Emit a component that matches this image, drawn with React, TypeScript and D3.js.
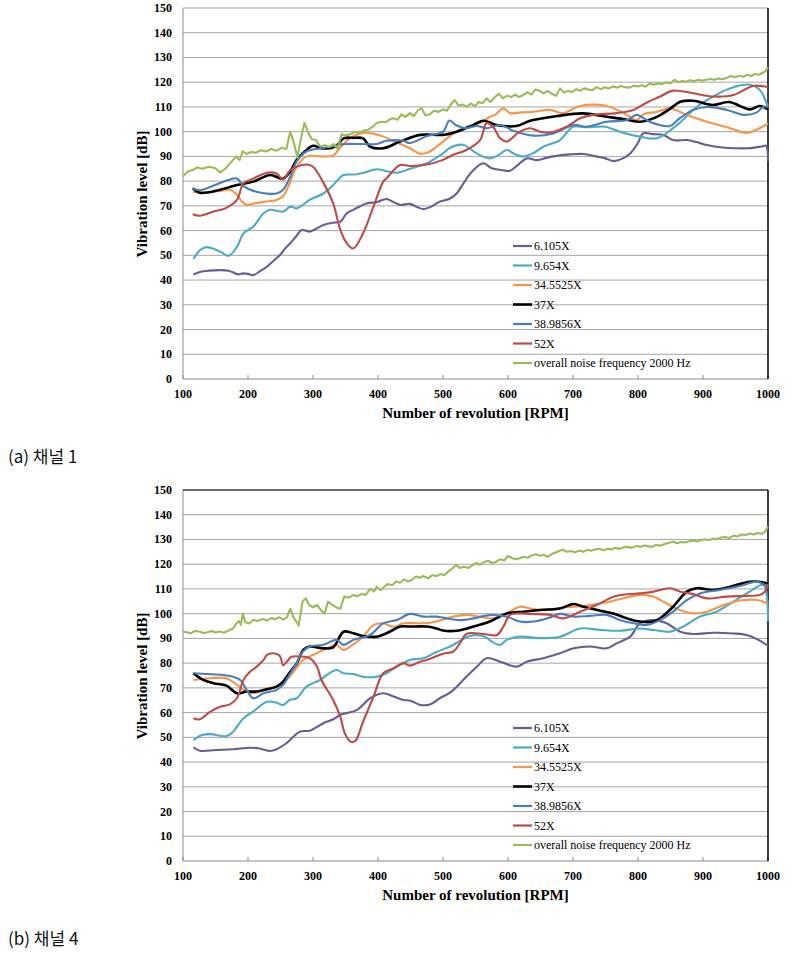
import React, { useEffect, useState } from "react";
import * as d3 from "d3";

type P = [number, number];

const seriesNames = ["6.105X", "9.654X", "34.5525X", "37X", "38.9856X", "52X", "overall noise frequency 2000 Hz"];
const seriesColors = ["#665C99", "#4BACC6", "#F79646", "#000000", "#4A7EBB", "#BE4B48", "#9BBB59"];
const xTicks = [100, 200, 300, 400, 500, 600, 700, 800, 900, 1000];
const yTicks = [0, 10, 20, 30, 40, 50, 60, 70, 80, 90, 100, 110, 120, 130, 140, 150];
const captions = ["(a) 채널 1", "(b) 채널 4"];

// ---- Channel 1 ----
const ch1_6105: P[] = [[116,42.3],[126,43.3],[140,43.8],[157,44],[170,43.8],[185,42.3],[192,42.7],[200,42.5],[208,42],[218,43.5],[229,45.4],[240,48],[249,50.1],[258,53],[265,54.9],[272,57],[283,60.2],[295,59.6],[305,60.8],[316,62.3],[330,63.2],[342,63.6],[352,67],[362,68.4],[382,71],[398,71.5],[413,72.8],[424,71.5],[434,70.4],[449,70.8],[462,69.3],[470,68.7],[482,69.7],[495,71.7],[511,73],[521,75],[530,78.5],[545,84],[562,87.2],[575,85.2],[590,84.5],[603,84.2],[615,86.5],[629,89.2],[645,88.5],[660,89.5],[675,90.2],[695,90.8],[716,91],[735,90],[750,89.2],[762,88.1],[775,89],[788,91.2],[800,95.5],[808,99.3],[823,99],[840,98.6],[854,96.6],[875,96.6],[890,95.8],[906,94.6],[930,93.6],[950,93.3],[970,93.3],[990,94],[997,94.3],[1000,88]];
const ch1_9654: P[] = [[116,48.5],[126,52],[136,53.3],[157,51.5],[170,49.8],[183,53.4],[193,58.9],[208,61.6],[224,67],[234,68.4],[254,67.7],[265,69.7],[275,69],[295,72.4],[316,75],[331,78.4],[340,81],[347,82.5],[365,82.7],[380,83.5],[398,84.8],[413,84],[430,83.4],[449,85],[475,87.2],[500,91.2],[511,93.5],[531,94.7],[542,93],[552,91.2],[572,89.2],[585,90.5],[598,92.6],[610,91],[623,89.9],[640,91.5],[655,94],[680,96.6],[700,102],[720,101.8],[750,102],[772,100],[803,98],[829,97.3],[854,101.4],[870,105],[885,108.8],[900,111.8],[916,114.2],[932,116.5],[947,118],[972,119],[987,117],[1000,110]];
const ch1_345525: P[] = [[115,75.7],[130,75.4],[157,76],[172,76.5],[183,74.5],[190,72],[198,70.4],[210,71],[226,71.7],[244,72.4],[254,74],[262,77.8],[275,85.8],[290,90],[310,90],[331,90.3],[340,93],[357,97.3],[377,99.5],[395,99],[408,98],[428,95.7],[449,93.3],[465,91.1],[480,92],[500,96],[521,100],[546,102.3],[560,104],[572,106],[580,106.8],[593,109.4],[603,107.5],[620,107.8],[638,108],[664,108.8],[685,107.5],[711,110.4],[752,110.4],[772,108.3],[783,106.8],[798,104.7],[808,107],[829,108],[849,109.4],[875,106.8],[906,104],[942,101.4],[967,99.5],[987,101.4],[1000,103.4]];
const ch1_37: P[] = [[115,77.1],[126,75.3],[140,75.5],[157,76.5],[183,78.4],[208,79.8],[234,82.5],[254,81],[265,84],[275,88.6],[290,92.6],[300,94.3],[315,93.2],[336,94.3],[347,97.3],[362,97.5],[377,97.3],[388,93.9],[408,93.3],[434,96],[465,98.7],[500,98.7],[521,100],[545,102.5],[562,104.4],[582,102.7],[613,102.3],[634,104.4],[675,106.3],[715,107.4],[752,106],[780,105],[803,104],[829,106],[848,109],[865,112.1],[885,112.5],[915,110.8],[940,112],[972,109],[987,110.4],[1000,109]];
const ch1_389856: P[] = [[115,77],[126,76.3],[150,78.5],[170,80.5],[183,81.1],[193,78],[213,75.7],[228,75],[244,75],[254,76.5],[265,81.8],[275,88],[290,92],[316,93.4],[336,94.4],[347,95],[377,95],[398,95],[413,96.3],[439,96.3],[449,95.4],[475,98.2],[500,100],[510,104.5],[521,102.5],[536,101.4],[552,102.3],[567,101.4],[588,102.7],[608,100.4],[639,98.4],[670,99.3],[701,102.7],[720,102],[752,104],[783,104.7],[798,106.8],[818,104],[849,102.3],[864,105.4],[885,108.8],[906,110],[937,108.8],[962,106.8],[982,107.7],[993,110.1],[1000,110]];
const ch1_52: P[] = [[115,66.6],[126,66],[147,67.7],[165,69],[183,72.4],[193,79.1],[208,81],[229,83.4],[244,83.1],[254,80.6],[265,84.5],[275,85.8],[290,86.7],[300,85.8],[315,79.8],[331,71],[342,60.3],[352,54.9],[362,52.8],[377,58.9],[393,69.7],[408,79.8],[413,81.1],[434,86.5],[449,86.1],[475,86.7],[500,88.6],[515,90.6],[536,92.6],[557,96.6],[567,103.4],[577,102],[588,97.3],[598,96],[618,100],[634,101.4],[649,100],[664,99.6],[690,102],[711,105.4],[731,106.8],[767,107.5],[793,108.8],[813,111.7],[834,114.2],[854,116.6],[885,115.5],[916,114.2],[947,114.8],[977,118.5],[1000,118]];
const ch1_noise: P[] = [[100,82],[108,84],[115,84.5],[122,85.5],[130,85],[140,85.8],[150,85.2],[157,83.5],[165,85],[175,88],[182,90],[187,88.5],[192,92],[198,91],[205,91.8],[212,91.5],[220,92.5],[228,92],[236,93],[244,92.3],[252,93.5],[259,93],[265,100],[271,95],[276,89.5],[282,98],[287,103.6],[292,100],[298,97],[305,96.5],[311,94],[318,94.5],[325,93.8],[332,95],[338,93],[344,99],[350,98.5],[358,99],[365,100],[372,99.5],[378,100.5],[385,100.8],[392,102],[398,103.5],[405,104],[412,103.8],[418,105],[424,105.4],[430,104.8],[436,107],[442,106],[449,107.5],[455,106.3],[461,108.5],[467,109.5],[473,106.5],[480,107],[486,108.5],[493,108],[500,109],[506,108.5],[512,111],[518,112.8],[524,110.5],[530,111],[537,110],[543,111.5],[549,110.2],[555,112],[561,111.5],[567,113.5],[573,112],[580,114],[586,115.3],[592,113.5],[598,114.5],[605,114],[611,115],[617,114],[623,114.8],[630,116],[636,115],[642,117],[649,116.5],[655,115.5],[661,116.5],[668,115.2],[674,114.5],[680,117.5],[686,115.8],[692,116.5],[698,116],[705,117.2],[711,116.5],[717,117.5],[724,117],[730,116.8],[736,118],[743,117.2],[749,118],[755,117.5],[762,118.3],[768,117.8],[774,118.5],[780,118],[787,117.8],[793,118.6],[800,118.3],[806,118.8],[812,118.2],[818,119.5],[825,119],[831,119.6],[837,119.2],[843,120],[850,119.5],[856,121],[862,120],[868,120.5],[874,120.2],[880,120.8],[886,120.4],[893,121],[899,120.6],[905,121],[912,121.3],[918,121],[924,121.5],[930,121.2],[937,121.8],[943,122.5],[949,122],[955,122.6],[962,122.2],[968,123],[974,122.5],[980,123.3],[986,123],[992,123.8],[996,124.5],[1000,126]];

// ---- Channel 4 ----
const ch4_6105: P[] = [[116,46],[126,44.6],[150,44.9],[177,45.2],[203,45.8],[218,45.5],[234,44.5],[244,45.2],[259,47.6],[280,52.3],[295,52.7],[316,55.7],[331,57.3],[342,59.1],[367,61],[388,65.8],[408,67.8],[424,66.5],[439,65.1],[450,64.8],[465,63.1],[480,63.3],[495,65.8],[513,68.5],[536,74.5],[552,78.5],[567,82],[588,80.6],[613,78.6],[629,80.6],[654,82],[680,84],[701,86],[726,86.7],[752,86],[767,88],[788,90.7],[803,96.1],[824,97.4],[844,96.1],[865,92.7],[885,91.8],[916,92.3],[947,92],[967,91.4],[983,89.7],[1000,87]];
const ch4_9654: P[] = [[116,48.9],[129,50.9],[142,51.3],[167,50.5],[177,52.3],[193,57.7],[208,60.4],[229,64.4],[244,64],[254,63.1],[264,65.1],[275,65.8],[290,70.5],[311,73.2],[321,75.2],[336,77.2],[347,75.9],[362,75.6],[377,74.5],[398,74.5],[413,75.9],[424,77.9],[439,80],[449,81.3],[470,82],[490,84.5],[511,86.7],[526,89],[541,91],[557,91.2],[567,90.3],[575,88.7],[588,87.4],[598,89.4],[618,90.7],[649,90.1],[680,90.7],[711,94],[742,93.4],[772,93.1],[803,94],[824,93.4],[849,92.7],[870,94.8],[895,98.8],[921,100.8],[947,104.9],[972,108.9],[993,111.6],[1000,97]];
const ch4_345525: P[] = [[116,73.2],[142,73.9],[167,73.9],[183,71.2],[193,69.2],[208,67.8],[229,69.8],[244,70.5],[259,73.2],[270,76.5],[280,79.9],[285,81.3],[300,83.3],[316,85.3],[336,87.4],[347,85.3],[357,86.7],[377,90.7],[393,95.4],[408,96.1],[424,94.7],[439,96.1],[460,96.1],[480,96.3],[495,97.2],[516,98.8],[536,99.5],[557,98.8],[577,98.1],[598,100.1],[618,102.8],[634,102.1],[654,101.4],[685,102.5],[711,103],[742,104.1],[772,105.8],[803,107.6],[823,106.9],[844,104.1],[865,101.4],[885,100.1],[906,100.8],[932,103.5],[957,105.3],[983,105.5],[1000,104.1]];
const ch4_37: P[] = [[116,75.9],[131,73.2],[147,71.9],[167,70.9],[183,67.8],[198,68.5],[213,68.5],[229,69.4],[244,70.5],[254,72.5],[265,76.5],[275,79.9],[285,85.3],[295,86.7],[316,86],[331,86.4],[347,92.7],[362,92.1],[377,91],[398,90.7],[418,92.7],[434,94.8],[449,94.8],[475,94.8],[490,94],[500,93.2],[521,93.1],[547,94.8],[572,96.8],[598,100.1],[624,100.8],[649,101.5],[680,102.1],[701,103.9],[716,102.8],[742,101.2],[762,100.1],[783,98.1],[803,96.8],[824,96.8],[834,98.1],[854,102.8],[875,108.9],[890,110.3],[916,109.6],[942,110.9],[972,112.9],[995,112.5],[1000,112]];
const ch4_389856: P[] = [[116,75.9],[137,75.6],[162,75.2],[177,74.5],[188,73.2],[198,69.2],[208,65.8],[224,67.8],[244,69.2],[254,71.2],[265,75.9],[275,80],[282,84],[295,86.7],[316,87.4],[336,89.4],[347,87.4],[362,89.4],[388,91.4],[408,96.1],[429,97.4],[449,99.9],[470,98.8],[490,98.8],[500,98.4],[526,97.4],[547,98.1],[572,99.4],[598,98.8],[618,96.8],[639,96.8],[665,98.5],[680,99.9],[701,98.8],[726,99.1],[752,99.5],[772,97.4],[793,96.1],[813,95.4],[834,97.4],[854,100.8],[875,105.5],[895,108.2],[926,109.6],[957,111.2],[983,112.9],[995,111.6],[1000,111]];
const ch4_52: P[] = [[116,57.7],[126,57.3],[142,60.4],[157,62.4],[172,63.3],[183,65.8],[193,73.2],[203,76.5],[213,78.5],[224,81.3],[229,83.3],[239,84],[249,82.9],[254,79.2],[262,81.3],[267,82.6],[285,82.6],[295,82],[306,78.6],[313,73.2],[331,65.1],[342,58.4],[349,51.6],[358,48.2],[365,48.5],[377,56.3],[393,66.4],[408,75.9],[424,77.9],[439,80],[449,79],[465,80.6],[475,81.3],[500,83.8],[516,84.7],[526,88],[536,91.8],[562,91.8],[583,91.4],[593,94.8],[603,99.5],[618,100.1],[634,99.9],[665,99.5],[685,98.1],[711,100.8],[736,103.5],[767,107.2],[803,108.2],[824,108.9],[849,110.3],[865,108.9],[885,107.9],[906,106.2],[936,106.9],[967,107.2],[988,107.6],[995,108.9],[1000,112]];
const ch4_noise: P[] = [[100,92.7],[106,92.5],[112,92],[118,93],[125,92.8],[131,92.2],[138,92.5],[144,93],[150,92.4],[157,92.8],[163,92.3],[170,93.2],[177,94],[182,96],[186,97],[189,95.5],[192,100],[196,96.5],[202,96],[208,97.5],[215,97],[222,97.8],[229,97.2],[236,98.2],[242,97.8],[248,98.6],[254,97.6],[260,98.5],[265,102],[270,98.5],[274,97],[278,95.2],[284,105],[289,106.2],[294,103.5],[300,102.6],[306,103.5],[312,101.5],[318,100],[323,104.9],[330,103.5],[336,102.5],[342,102],[348,106.9],[355,106.5],[362,107.5],[368,107],[375,108],[381,107.6],[388,110],[394,109],[398,110.9],[404,109.5],[410,111],[416,112],[422,111.5],[428,113],[434,112.5],[440,113.9],[446,113],[452,113.6],[458,115],[464,114.5],[470,115.2],[477,114.3],[483,115.5],[490,115.2],[496,116],[502,115.5],[508,117],[514,118.2],[520,119.7],[526,118.5],[532,119],[539,118.5],[545,119.5],[551,120.5],[557,119.8],[563,120.8],[569,121.4],[576,120.5],[582,121],[588,122],[594,121.5],[600,123.3],[606,122.5],[612,122],[618,122.4],[624,123],[630,122.6],[636,123.5],[643,124],[649,123.4],[655,123.8],[661,123],[668,124.2],[674,124.8],[680,125.5],[685,125.8],[691,125],[697,125.3],[703,124.8],[709,125.5],[716,125],[722,125.8],[728,125.4],[734,126],[741,126.2],[747,125.6],[753,126.3],[759,126],[765,126.6],[772,126.2],[778,126.8],[784,127],[790,126.6],[798,127.4],[804,127],[810,127.6],[816,127.2],[822,127],[828,127.8],[834,127.5],[841,128.2],[847,128.6],[854,129.1],[860,128.5],[866,129],[872,128.8],[879,129.3],[885,129.6],[891,129.2],[897,129.8],[903,130],[910,129.8],[916,130.4],[922,130.2],[928,130.8],[934,131],[940,130.6],[947,131.5],[953,131.2],[959,132],[966,131.8],[972,132.4],[978,132],[984,132.6],[990,132.3],[995,133],[1000,135.2]];

const channel1 = [ch1_6105, ch1_9654, ch1_345525, ch1_37, ch1_389856, ch1_52, ch1_noise];
const channel4 = [ch4_6105, ch4_9654, ch4_345525, ch4_37, ch4_389856, ch4_52, ch4_noise];

const SERIF = "'Times New Roman', 'Liberation Serif', serif";
const KR = "'Noto Sans CJK KR', sans-serif";
const LEFT = 183;
const RIGHT = 768;
const PLOT_H = 371;

function Chart({ top, data, caption, topBorder }: { top: number; data: P[][]; caption: string; topBorder: boolean }) {
  const x = d3.scaleLinear().domain([100, 1000]).range([LEFT, RIGHT]);
  const y = d3.scaleLinear().domain([0, 150]).range([top + PLOT_H, top]);
  const bottom = top + PLOT_H;
  const smooth = d3.line<P>().x((d) => x(d[0])).y((d) => y(d[1])).curve(d3.curveCatmullRom.alpha(0.5));
  const straight = d3.line<P>().x((d) => x(d[0])).y((d) => y(d[1]));
  const legendTop = top + 238;
  return (
    <g>
      {yTicks.map((t) => (
        <line key={"g" + t} x1={LEFT} x2={RIGHT} y1={y(t)} y2={y(t)} stroke={t === 0 ? "#8c8c8c" : "#a6a6a6"} strokeWidth={1} />
      ))}
      <line x1={LEFT} x2={LEFT} y1={top} y2={bottom} stroke="#8c8c8c" strokeWidth={1} />
      {xTicks.map((t) => (
        <line key={"xt" + t} x1={x(t)} x2={x(t)} y1={bottom - 4} y2={bottom} stroke="#8c8c8c" strokeWidth={1} />
      ))}
      {topBorder && <line x1={LEFT} x2={RIGHT} y1={top} y2={top} stroke="#000" strokeWidth={1.2} />}
      <line x1={RIGHT} x2={RIGHT} y1={top} y2={bottom} stroke="#000" strokeWidth={1.5} />
      {data.map((s, i) => (
        <path
          key={"s" + i}
          d={(i === 6 ? straight(s) : smooth(s)) || ""}
          fill="none"
          stroke={seriesColors[i]}
          strokeWidth={i === 3 ? 2.6 : 2.1}
          strokeLinejoin="round"
        />
      ))}
      <g fontFamily={SERIF}>
        {yTicks.map((t) => (
          <text key={"yl" + t} x={172} y={y(t) + 4} textAnchor="end" fontWeight="bold" fontSize={12} fill="#000">
            {t}
          </text>
        ))}
        {xTicks.map((t) => (
          <text key={"xl" + t} x={x(t)} y={bottom + 19} textAnchor="middle" fontWeight="bold" fontSize={12} fill="#000">
            {t}
          </text>
        ))}
        <text x={(LEFT + RIGHT) / 2} y={bottom + 39} textAnchor="middle" fontWeight="bold" fontSize={15} fill="#000">
          Number of revolution [RPM]
        </text>
        <text transform={`translate(147,${top + 186}) rotate(-90)`} textAnchor="middle" fontWeight="bold" fontSize={15} fill="#000">
          Vibration level [dB]
        </text>
        {seriesNames.map((n, i) => (
          <g key={"lg" + i}>
            <line x1={513} x2={532} y1={legendTop + i * 19.5} y2={legendTop + i * 19.5} stroke={seriesColors[i]} strokeWidth={i === 3 ? 2.6 : 2.2} />
            <text x={534} y={legendTop + i * 19.5 + 4} fontSize={12} fill="#000">
              {n}
            </text>
          </g>
        ))}
      </g>
      <text x={8} y={bottom + 84} fontFamily={KR} fontSize={17} fill="#111">
        {caption}
      </text>
    </g>
  );
}

export default function App() {
  const [gen, setGen] = useState(0);
  useEffect(() => {
    let alive = true;
    const fonts = (document as any).fonts;
    const again = () => {
      if (alive) requestAnimationFrame(() => requestAnimationFrame(() => alive && setGen((g) => g + 1)));
    };
    if (fonts && fonts.ready) fonts.ready.then(again, again);
    return () => {
      alive = false;
    };
  }, []);
  return (
    <div style={{ position: "absolute", left: 0, top: 0, width: 798, height: 955, fontFamily: SERIF }}>
      <svg key={gen} width={798} height={955} style={{ display: "block", background: "#fff" }}>
        <rect x={0} y={0} width={798} height={955} fill="#fff" />
        <Chart top={8} data={channel1} caption={captions[0]} topBorder={false} />
        <Chart top={490} data={channel4} caption={captions[1]} topBorder={true} />
      </svg>
    </div>
  );
}
